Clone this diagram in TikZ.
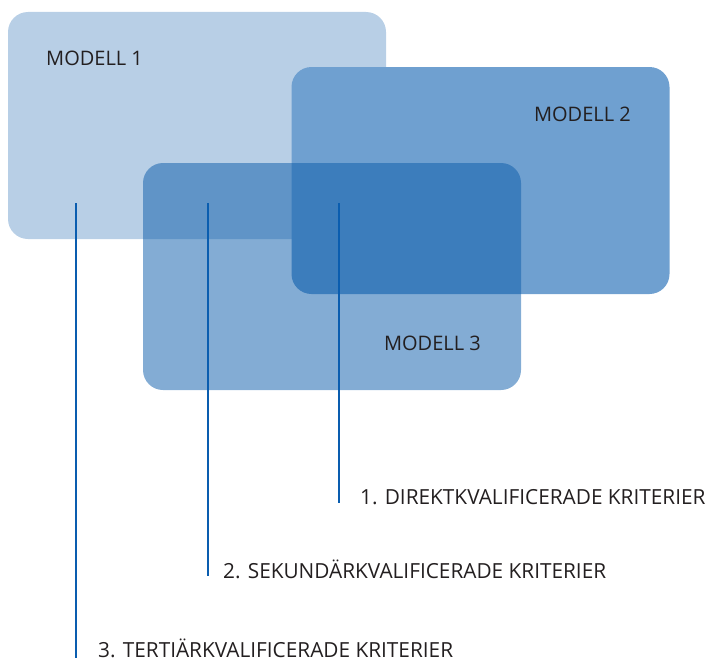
\documentclass[tikz,border=0pt]{standalone}
\usepackage{fontspec}
\setmainfont{Open Sans}
\definecolor{boxA}{RGB}{184,207,230}
\definecolor{boxB}{RGB}{111,160,208}
\definecolor{boxC}{RGB}{12,92,170}
\definecolor{leader}{RGB}{10,93,175}
\definecolor{ink}{RGB}{35,31,32}
\begin{document}
\begin{tikzpicture}[x=1pt,y=-1pt,
  panel/.style={rounded corners=20pt, minimum width=378pt, minimum height=227pt, inner sep=0pt, draw=none},
  tag/.style={text=ink, font=\fontsize{20}{24}\selectfont, inner sep=0pt},
  crit/.style={text=ink, font=\fontsize{20.8}{24}\selectfont, inner sep=0pt, anchor=base west},
  leadline/.style={draw=leader, line width=2pt}]
\useasboundingbox (0,0) rectangle (706,661);
% the three overlapping model panels
\node[panel, fill=boxA] (m1) at (197,125.5) {};
\node[panel, fill=boxB] (m2) at (480.5,180.5) {};
\node[panel, fill=boxC, fill opacity=0.51] (m3) at (332,276.5) {};
% panel captions
\node[tag, anchor=base west] (c1) at (46,66) {MODELL 1};
\node[tag, anchor=base east] (c2) at (631,121) {MODELL 2};
\node[tag, anchor=base east] (c3) at (481,350) {MODELL 3};
% criteria labels
\node[crit] (l1) at (360,504) {1. DIREKTKVALIFICERADE KRITERIER};
\node[crit] (l2) at (223,578) {2. SEKUNDÄRKVALIFICERADE KRITERIER};
\node[crit] (l3) at (98,657) {3. TERTIÄRKVALIFICERADE KRITERIER};
% leader lines from the panels down to the labels
\coordinate (t1) at (339,203);
\coordinate (t2) at (208,203);
\coordinate (t3) at (76,203);
\draw[leadline] (t1) -- ([yshift=1pt]t1 |- l1.base);
\draw[leadline] (t2) -- ([yshift=2pt]t2 |- l2.base);
\draw[leadline] (t3) -- ([yshift=-1pt]t3 |- l3.base);
\end{tikzpicture}
\end{document}
